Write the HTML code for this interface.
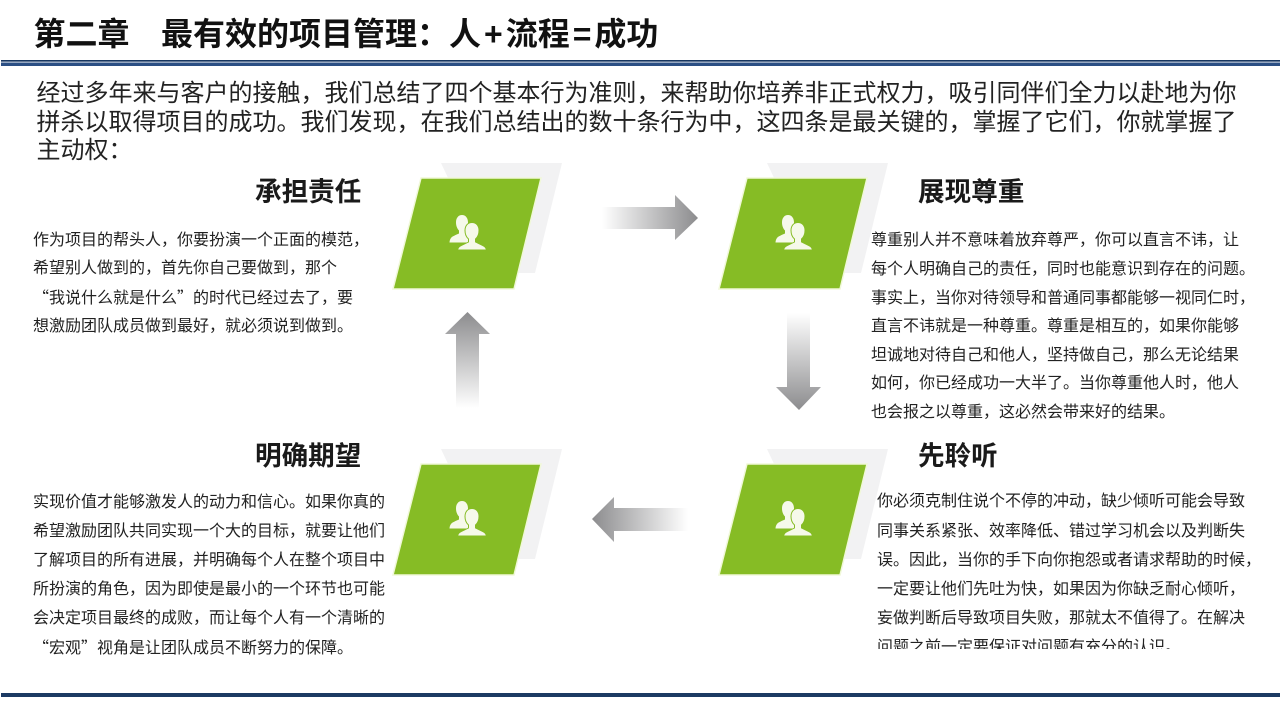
<!DOCTYPE html>
<html lang="zh-CN">
<head>
<meta charset="utf-8">
<title>第二章 最有效的项目管理</title>
<style>
html,body{margin:0;padding:0;background:#fff}
#p{position:relative;width:1280px;height:720px;overflow:hidden;background:#fff;font-family:"Liberation Sans","Noto Sans CJK SC",sans-serif;color:#1c1c1c}
svg{position:absolute;left:0;top:0}
.t{position:absolute;white-space:pre;line-height:30px;height:30px}
.b{font-size:16px;color:#222}
.i{font-size:24px;color:#222}
.h{font-size:26.600px;font-weight:700;color:#1a1a1a}
.q{font-family:"Noto Sans CJK SC",sans-serif}
.o{padding:0 3px}
.c{position:absolute;left:860px;top:480px;width:410px;height:169px;overflow:hidden}
</style>
</head>
<body>
<div id="p">
<svg width="1280" height="720" viewBox="0 0 1280 720">
<defs>
<linearGradient id="gr" x1="0" x2="1" y1="0" y2="0"><stop offset="0" stop-color="#fff"/><stop offset="1" stop-color="#8c8c8e"/></linearGradient>
<linearGradient id="gl" x1="1" x2="0" y1="0" y2="0"><stop offset="0" stop-color="#fff"/><stop offset="1" stop-color="#8c8c8e"/></linearGradient>
<linearGradient id="gd" x1="0" x2="0" y1="0" y2="1"><stop offset="0" stop-color="#fff"/><stop offset="1" stop-color="#8c8c8e"/></linearGradient>
<linearGradient id="gu" x1="0" x2="0" y1="1" y2="0"><stop offset="0" stop-color="#fff"/><stop offset="1" stop-color="#8c8c8e"/></linearGradient>
<g id="card">
<polygon points="48,-15 169,-15 142,95 100,95" fill="#f2f2f3"/>
<polygon points="28,0 148,0 121,111 0,111" fill="#86bc25" stroke="#f0f8d8" stroke-width="1.500"/>
<g fill="#f6f9ea">
<path d="M69,37C65.400,37 63,40 63,44.500C63,47.500 64,50.500 66,52.500L66,55.500C63,57 59.500,58 58,60C57.200,61 56.600,62.500 56.500,64.500L75,64.500L75,44.500C75,40 72.600,37 69,37z"/>
<path d="M79,44.500c-4.200,0-7,3.200-7,8 0,3.500,1.200,6.500,3.500,8.500l0,3c-3.500,2-7.500,3-9.500,5-.8,1-1.300,2-1.500,3l29,0c-.2-1-.7-2-1.500-3-2-2-6-3-9.500-5l0-3c2.300-2,3.500-5,3.500-8.500 0-4.800-2.800-8-7-8z" stroke="#86bc25" stroke-width="1"/>
</g>
</g>
</defs>

<rect x="1" y="60" width="1279" height="1.700" fill="#17365f"/>
<rect x="1" y="61.700" width="1279" height="1" fill="#b8c4d6"/>
<rect x="1" y="62.700" width="1279" height="3.300" fill="#2b4f84"/>
<rect x="1" y="693" width="1279" height="4" fill="#1c3a63"/>

<use href="#card" x="393" y="178"/>
<use href="#card" x="719" y="178"/>
<use href="#card" x="393" y="464"/>
<use href="#card" x="719" y="464"/>

<polygon points="602,207 675,207 675,195 698,218 675,240 675,229 602,229" fill="url(#gr)"/>
<polygon points="787,313 810,313 810,387 821,387 799,410 776,387 787,387" fill="url(#gd)"/>
<polygon points="688,508 614,508 614,497 592,519 614,542 614,531 688,531" fill="url(#gl)"/>
<polygon points="456,408 479,408 479,334 490,334 467.500,312 445,334 456,334" fill="url(#gu)"/>
</svg>

<div class="t" style="left:33.500px;top:9.500px;font-size:32px;font-weight:700;line-height:48px;height:48px;color:#111">第二章</div>
<div class="t" style="left:161px;top:9.500px;font-size:32px;font-weight:700;line-height:48px;height:48px;color:#111">最有效的项目管理：人<span class="o">+</span>流程<span class="o">=</span>成功</div>

<div class="t i" style="left:36.500px;top:79px">经过多年来与客户的接触，我们总结了四个基本行为准则，来帮助你培养非正式权力，吸引同伴们全力以赴地为你</div>
<div class="t i" style="left:36.500px;top:108px">拼杀以取得项目的成功。我们发现，在我们总结出的数十条行为中，这四条是最关键的，掌握了它们，你就掌握了</div>
<div class="t i" style="left:36.500px;top:136px">主动权：</div>

<div class="t h" style="left:255px;top:177px">承担责任</div>
<div class="t b" style="left:33px;top:226px">作为项目的帮头人，你要扮演一个正面的模范，</div>
<div class="t b" style="left:33px;top:254px">希望别人做到的，首先你自己要做到，那个</div>
<div class="t b q" style="left:33px;top:281px">“我说什么就是什么”的时代已经过去了，要</div>
<div class="t b" style="left:33px;top:312px">想激励团队成员做到最好，就必须说到做到。</div>

<div class="t h" style="left:918px;top:177px">展现尊重</div>
<div class="t b" style="left:871px;top:226px">尊重别人并不意味着放弃尊严，你可以直言不讳，让</div>
<div class="t b" style="left:871px;top:255px">每个人明确自己的责任，同时也能意识到存在的问题。</div>
<div class="t b" style="left:871px;top:284px">事实上，当你对待领导和普通同事都能够一视同仁时，</div>
<div class="t b" style="left:871px;top:312px">直言不讳就是一种尊重。尊重是相互的，如果你能够</div>
<div class="t b" style="left:871px;top:341px">坦诚地对待自己和他人，坚持做自己，那么无论结果</div>
<div class="t b" style="left:871px;top:369px">如何，你已经成功一大半了。当你尊重他人时，他人</div>
<div class="t b" style="left:871px;top:398px">也会报之以尊重，这必然会带来好的结果。</div>

<div class="t h" style="left:255px;top:441px">明确期望</div>
<div class="t b" style="left:33px;top:488px">实现价值才能够激发人的动力和信心。如果你真的</div>
<div class="t b" style="left:33px;top:517px">希望激励团队共同实现一个大的目标，就要让他们</div>
<div class="t b" style="left:33px;top:546px">了解项目的所有进展，并明确每个人在整个项目中</div>
<div class="t b" style="left:33px;top:575px">所扮演的角色，因为即使是最小的一个环节也可能</div>
<div class="t b" style="left:33px;top:604px">会决定项目最终的成败，而让每个人有一个清晰的</div>
<div class="t b q" style="left:33px;top:631px">“宏观”视角是让团队成员不断努力的保障。</div>

<div class="t h" style="left:918px;top:441px">先聆听</div>
<div class="c">
<div class="t b" style="left:17px;top:7px">你必须克制住说个不停的冲动，缺少倾听可能会导致</div>
<div class="t b" style="left:17px;top:37px">同事关系紧张、效率降低、错过学习机会以及判断失</div>
<div class="t b" style="left:17px;top:66px">误。因此，当你的手下向你抱怨或者请求帮助的时候，</div>
<div class="t b" style="left:17px;top:95px">一定要让他们先吐为快，如果因为你缺乏耐心倾听，</div>
<div class="t b" style="left:17px;top:124px">妄做判断后导致项目失败，那就太不值得了。在解决</div>
<div class="t b" style="left:17px;top:153px">问题之前一定要保证对问题有充分的认识。</div>
</div>
</div>
</body>
</html>
